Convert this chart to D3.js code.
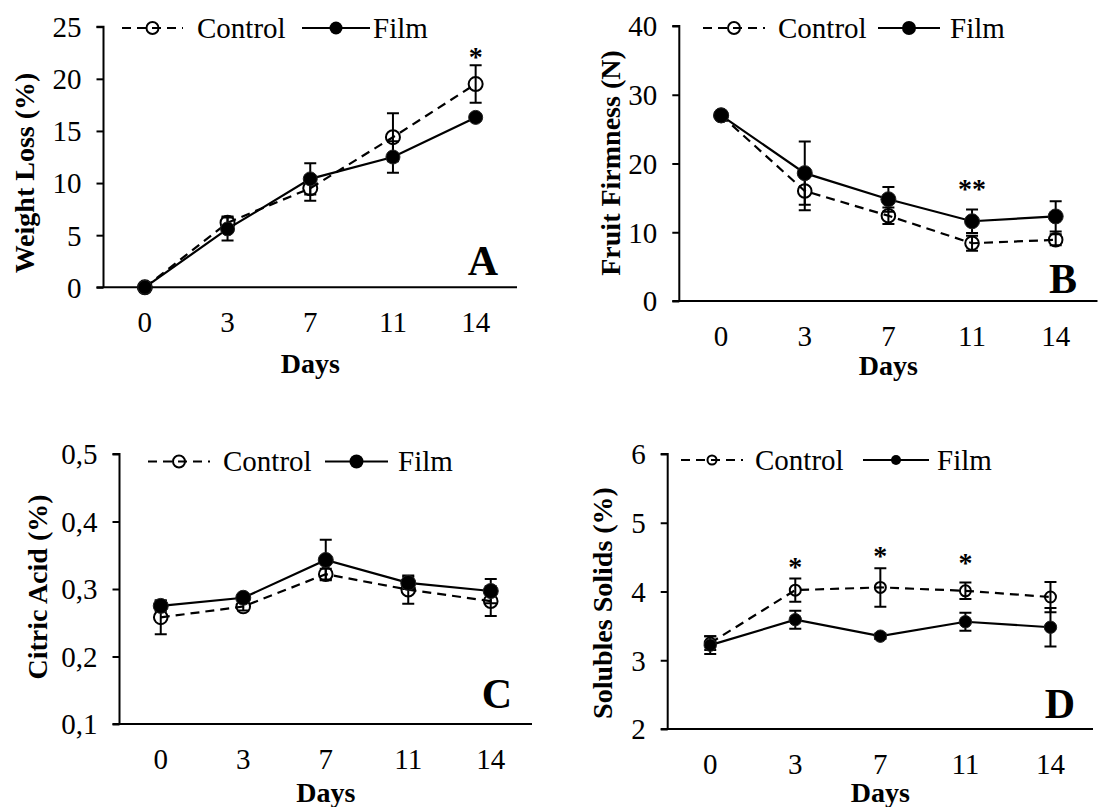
<!DOCTYPE html>
<html>
<head>
<meta charset="utf-8">
<script src="https://cdn.jsdelivr.net/npm/d3@7/dist/d3.min.js"></script>
<style>
  html, body { margin: 0; padding: 0; background: #fff; }
  svg, svg text { font-family: "Liberation Serif", "Times New Roman", Times, serif; }
</style>
</head>
<body>
<svg id="chart" width="1103" height="807"></svg>
<script>
// Storage days (x categories)
const days = ["0", "3", "7", "11", "14"];
const seriesNames = ["Control", "Film"];

// A: weight loss (%)
const weightControl = [0, 6.2, 9.5, 14.4, 19.5];
const weightControlErr = [0, 0.6, 1.2, 2.3, 1.8];
const weightFilm = [0, 5.6, 10.4, 12.5, 16.3];
const weightFilmErr = [0, 1.1, 1.5, 1.5, 0.3];
const weightTicks = [0, 5, 10, 15, 20, 25];
const weightTickLabels = ["0", "5", "10", "15", "20", "25"];
const weightSig = [{ day: "14", mark: "*", at: 22.5 }];

// B: fruit firmness (N)
const firmControl = [27.0, 16.0, 12.4, 8.4, 8.9];
const firmControlErr = [0.4, 2.8, 1.2, 1.1, 0.8];
const firmFilm = [27.0, 18.6, 14.8, 11.6, 12.3];
const firmFilmErr = [0.5, 4.6, 1.8, 1.7, 2.2];
const firmTicks = [0, 10, 20, 30, 40];
const firmTickLabels = ["0", "10", "20", "30", "40"];
const firmSig = [{ day: "11", mark: "**", at: 16.9 }];

// C: citric acid (%)
const citricControl = [0.258, 0.274, 0.322, 0.299, 0.282];
const citricControlErr = [0.025, 0.006, 0.008, 0.021, 0.022];
const citricFilm = [0.275, 0.287, 0.343, 0.309, 0.297];
const citricFilmErr = [0.008, 0.005, 0.030, 0.009, 0.018];
const citricTicks = [0.1, 0.2, 0.3, 0.4, 0.5];
const citricTickLabels = ["0,1", "0,2", "0,3", "0,4", "0,5"];
const citricSig = [];

// D: soluble solids (%)
const solidsControl = [3.25, 4.02, 4.06, 4.01, 3.92];
const solidsControlErr = [0.10, 0.17, 0.28, 0.12, 0.22];
const solidsFilm = [3.22, 3.59, 3.35, 3.56, 3.48];
const solidsFilmErr = [0.13, 0.13, 0.04, 0.13, 0.28];
const solidsTicks = [2, 3, 4, 5, 6];
const solidsTickLabels = ["2", "3", "4", "5", "6"];
const solidsSig = [
  { day: "3", mark: "*", at: 4.41 },
  { day: "7", mark: "*", at: 4.58 },
  { day: "11", mark: "*", at: 4.47 }
];

// Panel layout
const panels = [
  {
    letter: "A", yTitle: "Weight Loss (%)",
    control: weightControl, controlErr: weightControlErr,
    film: weightFilm, filmErr: weightFilmErr,
    ticks: weightTicks, tickLabels: weightTickLabels, sig: weightSig,
    left: 103.5, right: 517, top: 26.7, bottom: 287.3,
    titleX: 24, titleY: 173, daysY: 363,
    legendY: 28, legend: [122, 183, 197, 302, 370, 373],
    letterX: 483, letterY: 275,
    rC: 7, rF: 7, legRC: 6, legRF: 6.5
  },
  {
    letter: "B", yTitle: "Fruit Firmness (N)",
    control: firmControl, controlErr: firmControlErr,
    film: firmFilm, filmErr: firmFilmErr,
    ticks: firmTicks, tickLabels: firmTickLabels, sig: firmSig,
    left: 679.3, right: 1097.5, top: 26, bottom: 301,
    titleX: 610, titleY: 163, daysY: 365,
    legendY: 28, legend: [703, 765, 778, 878, 940, 950],
    letterX: 1063, letterY: 293,
    rC: 6.8, rF: 7.5, legRC: 6, legRF: 7
  },
  {
    letter: "C", yTitle: "Citric Acid (%)",
    control: citricControl, controlErr: citricControlErr,
    film: citricFilm, filmErr: citricFilmErr,
    ticks: citricTicks, tickLabels: citricTickLabels, sig: citricSig,
    left: 119.5, right: 532, top: 454, bottom: 724,
    titleX: 37, titleY: 587, daysY: 792,
    legendY: 461.5, legend: [148, 210, 223, 325, 388, 398],
    letterX: 497, letterY: 708,
    rC: 6.8, rF: 7.5, legRC: 6, legRF: 7
  },
  {
    letter: "D", yTitle: "Solubles Solids (%)",
    control: solidsControl, controlErr: solidsControlErr,
    film: solidsFilm, filmErr: solidsFilmErr,
    ticks: solidsTicks, tickLabels: solidsTickLabels, sig: solidsSig,
    left: 667.7, right: 1093, top: 454, bottom: 729,
    titleX: 602, titleY: 603, daysY: 792,
    legendY: 460, legend: [681, 743, 755, 863, 929, 937],
    letterX: 1060, letterY: 718,
    rC: 5.5, rF: 6.2, legRC: 4.5, legRF: 5
  }
];

const SERIF = '"Liberation Serif", "Times New Roman", Times, serif';
const FONT = 29;
const TITLE_FONT = 28;
const DASH = "9,6";

const svg = d3.select("#chart");
svg.append("rect").attr("width", 1103).attr("height", 807).attr("fill", "#fff");

const txt = (sel, size, bold) => sel
  .style("font-family", SERIF)
  .style("font-size", size + "px")
  .style("font-weight", bold ? "bold" : "normal")
  .attr("fill", "#000");

panels.forEach(p => {
  const g = svg.append("g");
  const x = d3.scaleBand().domain(days).range([p.left, p.right]).padding(0);
  const y = d3.scaleLinear().domain([p.ticks[0], p.ticks[p.ticks.length - 1]]).range([p.bottom, p.top]);
  const cx = d => x(d) + x.bandwidth() / 2;

  // y axis
  const yAxis = d3.axisLeft(y)
    .tickValues(p.ticks)
    .tickFormat((d, i) => p.tickLabels[i])
    .tickSize(7).tickPadding(15);
  const ya = g.append("g").attr("transform", `translate(${p.left},0)`).call(yAxis);
  ya.attr("font-family", null).attr("font-size", null);
  ya.select(".domain").attr("stroke", "#000").attr("stroke-width", 2).attr("d", `M-7,${p.top}H0V${p.bottom}`);
  ya.selectAll(".tick line").attr("stroke", "#000").attr("stroke-width", 2);
  txt(ya.selectAll(".tick text"), FONT, false).attr("dy", "0.34em");

  // x axis (no tick marks)
  const xAxis = d3.axisBottom(x).tickSize(0).tickPadding(0);
  const xa = g.append("g").attr("transform", `translate(0,${p.bottom})`).call(xAxis);
  xa.attr("font-family", null).attr("font-size", null);
  xa.select(".domain").attr("stroke", "#000").attr("stroke-width", 2).attr("d", `M${p.left - 7},0H${p.right}`);
  txt(xa.selectAll(".tick text"), FONT, false).attr("y", 35).attr("dy", "0.34em");

  // axis titles
  txt(g.append("text"), TITLE_FONT, true)
    .attr("transform", `translate(${p.titleX},${p.titleY}) rotate(-90)`)
    .attr("text-anchor", "middle").attr("dy", "0.34em")
    .text(p.yTitle);
  txt(g.append("text"), TITLE_FONT, true)
    .attr("x", (p.left + p.right) / 2).attr("y", p.daysY).attr("dy", "0.34em")
    .attr("text-anchor", "middle")
    .text("Days");

  // panel letter
  txt(g.append("text"), 42, true)
    .attr("x", p.letterX).attr("y", p.letterY)
    .attr("text-anchor", "middle")
    .text(p.letter);

  const line = d3.line().x((d, i) => cx(days[i])).y(d => y(d));

  // series lines
  g.append("path").datum(p.control)
    .attr("d", line).attr("fill", "none").attr("stroke", "#000")
    .attr("stroke-width", 2.2).attr("stroke-dasharray", DASH);
  g.append("path").datum(p.film)
    .attr("d", line).attr("fill", "none").attr("stroke", "#000")
    .attr("stroke-width", 2.2);

  // error bars (mean ± error)
  const drawErr = (vals, errs) => {
    const eg = g.append("g").attr("stroke", "#000").attr("stroke-width", 2).attr("fill", "none");
    vals.forEach((v, i) => {
      const e = errs[i];
      if (!e) return;
      const xc = cx(days[i]);
      const y1 = y(v + e), y0 = y(v - e);
      eg.append("path").attr("d", `M${xc},${y1}V${y0}M${xc - 6},${y1}H${xc + 6}M${xc - 6},${y0}H${xc + 6}`);
    });
  };
  drawErr(p.control, p.controlErr);
  drawErr(p.film, p.filmErr);

  // markers
  g.selectAll(null).data(p.control).join("circle")
    .attr("cx", (d, i) => cx(days[i])).attr("cy", d => y(d)).attr("r", p.rC)
    .attr("fill", "none").attr("stroke", "#000").attr("stroke-width", 2);
  g.selectAll(null).data(p.film).join("circle")
    .attr("cx", (d, i) => cx(days[i])).attr("cy", d => y(d)).attr("r", p.rF)
    .attr("fill", "#000").attr("stroke", "#222").attr("stroke-width", 1);

  // significance marks
  txt(g.selectAll(null).data(p.sig).join("text"), TITLE_FONT, true)
    .attr("x", d => cx(d.day)).attr("y", d => y(d.at) + 13)
    .attr("text-anchor", "middle")
    .text(d => d.mark);

  // legend
  const [a0, a1, t0, b0, b1, t1] = p.legend;
  const ly = p.legendY;
  const lg = g.append("g");
  lg.append("line").attr("x1", a0).attr("x2", a1).attr("y1", ly).attr("y2", ly)
    .attr("stroke", "#000").attr("stroke-width", 2.2).attr("stroke-dasharray", DASH);
  lg.append("circle").attr("cx", (a0 + a1) / 2).attr("cy", ly).attr("r", p.legRC)
    .attr("fill", "none").attr("stroke", "#000").attr("stroke-width", 2);
  txt(lg.append("text"), FONT, false).attr("x", t0).attr("y", ly).attr("dy", "0.34em")
    .text(seriesNames[0]);
  lg.append("line").attr("x1", b0).attr("x2", b1).attr("y1", ly).attr("y2", ly)
    .attr("stroke", "#000").attr("stroke-width", 2.2);
  lg.append("circle").attr("cx", (b0 + b1) / 2).attr("cy", ly).attr("r", p.legRF)
    .attr("fill", "#000");
  txt(lg.append("text"), FONT, false).attr("x", t1).attr("y", ly).attr("dy", "0.34em")
    .text(seriesNames[1]);
});
</script>
</body>
</html>
